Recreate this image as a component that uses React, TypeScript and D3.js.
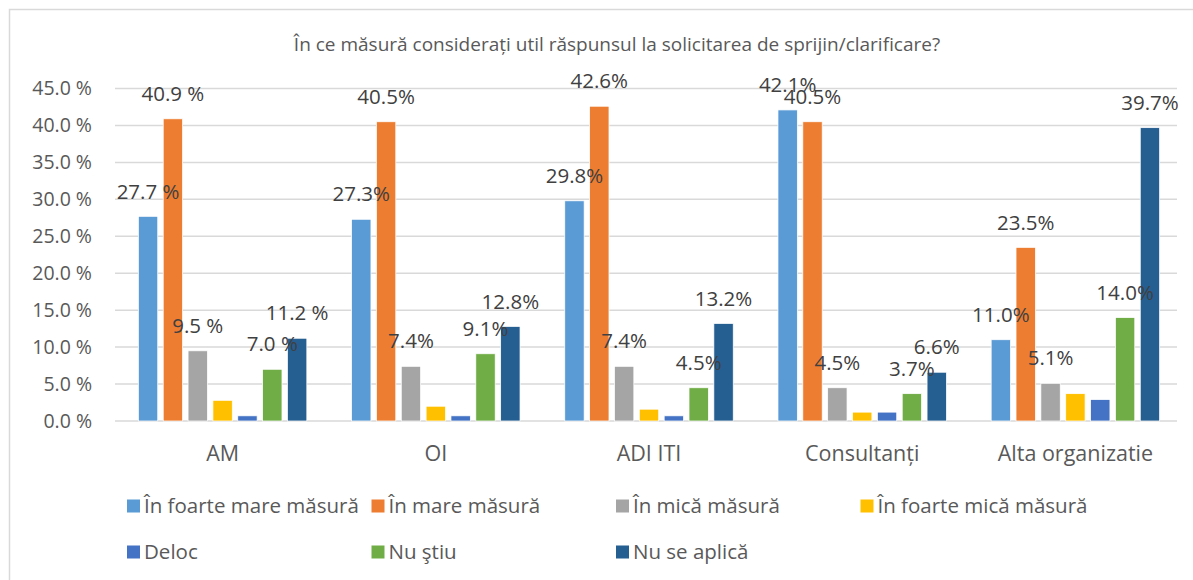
import * as d3 from 'd3';

const categories = ['AM', 'OI', 'ADI ITI', 'Consultanți', 'Alta organizatie'];
const seriesNames = [
  'În foarte mare măsură',
  'În mare măsură',
  'În mică măsură',
  'În foarte mică măsură',
  'Deloc',
  'Nu ştiu',
  'Nu se aplică',
];
const seriesColors = ['#5B9BD5', '#ED7D31', '#A5A5A5', '#FFC000', '#4472C4', '#70AD47', '#255E91'];

// values per series, one per category (percent)
const foarteMare = [27.7, 27.3, 29.8, 42.1, 11.0];
const mare = [40.9, 40.5, 42.6, 40.5, 23.5];
const mica = [9.5, 7.4, 7.4, 4.5, 5.1];
const foarteMica = [2.8, 2.0, 1.6, 1.2, 3.7];
const deloc = [0.7, 0.7, 0.7, 1.2, 2.9];
const nuStiu = [7.0, 9.1, 4.5, 3.7, 14.0];
const nuSeAplica = [11.2, 12.8, 13.2, 6.6, 39.7];
const seriesValues = [foarteMare, mare, mica, foarteMica, deloc, nuStiu, nuSeAplica];

// which series get a data label, and the suffix used per category
const showLabel = [true, true, true, false, false, true, true];
const labelSuffix = [' %', '%', '%', '%', '%'];

const yTicks = [0, 5, 10, 15, 20, 25, 30, 35, 40, 45];

const title = 'În ce măsură considerați util răspunsul la solicitarea de sprijin/clarificare?';

const W = 1193;
const H = 580;
const FONT = '"Open Sans", "Noto Sans", sans-serif';

export default function App() {
  const x0 = d3.scaleBand<string>().domain(categories).range([116, 1182]);
  const x1 = d3
    .scaleBand<number>()
    .domain(d3.range(seriesNames.length))
    .range([0, x0.bandwidth()])
    .paddingInner(0.22)
    .paddingOuter(0.9);
  const y = d3.scaleLinear().domain([0, 45]).range([421, 88.5]);

  return (
    <svg
      width={W}
      height={H}
      style={{ position: 'absolute', left: 0, top: 0, background: '#fff' }}
      fontFamily={FONT}
    >
      <rect x={9.5} y={9.5} width={W + 20} height={H + 20} fill="#fff" stroke="#d9d9d9" strokeWidth={1.5} />

      <text x={617} y={51} textAnchor="middle" fontSize={19} fill="#595959">
        {title}
      </text>

      {yTicks.map((t) => (
        <g key={t}>
          <line x1={115} x2={1177} y1={y(t)} y2={y(t)} stroke="#d9d9d9" strokeWidth={1.5} />
          <text x={92} y={y(t)} dy="0.35em" textAnchor="end" fontSize={19.5} fill="#595959">
            {`${t.toFixed(1)} %`}
          </text>
        </g>
      ))}

      {categories.map((c, ci) => (
        <g key={c} transform={`translate(${x0(c)},0)`}>
          {seriesValues.map((vals, si) => (
            <rect
              key={si}
              x={x1(si)}
              y={y(vals[ci])}
              width={x1.bandwidth()}
              height={y(0) - y(vals[ci])}
              fill={seriesColors[si]}
              stroke="#fff"
              strokeWidth={0.75}
            />
          ))}
          <text
            x={x0.bandwidth() / 2}
            y={453}
            dy="0.35em"
            textAnchor="middle"
            fontSize={21.5}
            fill="#595959"
          >
            {c}
          </text>
        </g>
      ))}

      {categories.map((c, ci) => (
        <g key={c + '-lbl'} transform={`translate(${x0(c)},0)`}>
          {seriesValues.map((vals, si) =>
            showLabel[si] ? (
              <text
                key={si}
                x={(x1(si) as number) + x1.bandwidth() / 2}
                y={y(vals[ci]) - 25}
                dy="0.35em"
                textAnchor="middle"
                fontSize={20.5}
                fill="#404040"
              >
                {vals[ci].toFixed(1) + labelSuffix[ci]}
              </text>
            ) : null
          )}
        </g>
      ))}

      {seriesNames.map((s, i) => {
        const col = i % 4;
        const row = Math.floor(i / 4);
        const lx = 127 + col * 244.5;
        const ly = row === 0 ? 506 : 552;
        return (
          <g key={s} transform={`translate(${lx},${ly})`}>
            <rect x={0} y={-6.5} width={13} height={13} fill={seriesColors[i]} />
            <text x={17} y={0} dy="0.35em" fontSize={20.5} fill="#595959">
              {s}
            </text>
          </g>
        );
      })}
    </svg>
  );
}
